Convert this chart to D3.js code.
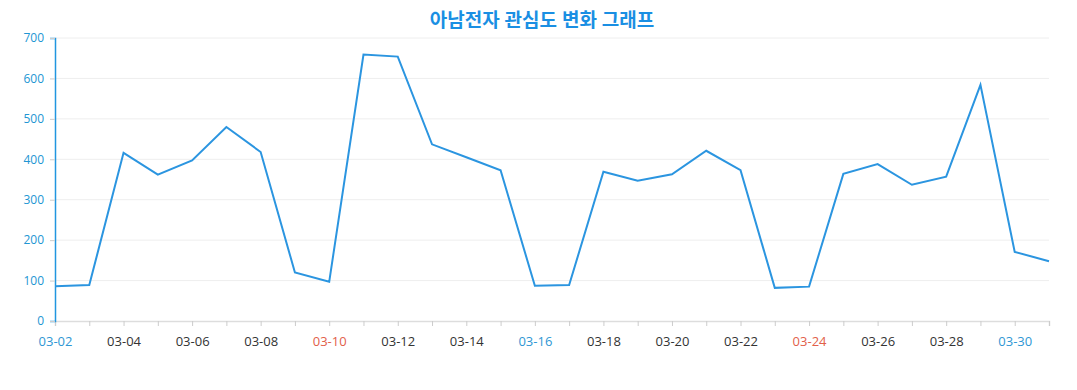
<!DOCTYPE html>
<html>
<head>
<meta charset="utf-8">
<script src="https://cdn.jsdelivr.net/npm/d3@7"></script>
<style>
  body { margin: 0; background: #fff; }
  svg text { font-family: "Open Sans", "Noto Sans", "Noto Sans CJK KR", sans-serif; }
</style>
</head>
<body>
<svg id="chart" width="1077" height="390"></svg>
<script>
// data (March 2024)
const dates = ["03-02","03-03","03-04","03-05","03-06","03-07","03-08","03-09","03-10","03-11",
               "03-12","03-13","03-14","03-15","03-16","03-17","03-18","03-19","03-20","03-21",
               "03-22","03-23","03-24","03-25","03-26","03-27","03-28","03-29","03-30","03-31"];
const interest = [86, 89, 416, 362, 397, 480, 418, 120, 97, 659,
                  654, 437, 405, 373, 87, 89, 369, 347, 363, 421,
                  373, 82, 85, 364, 388, 337, 357, 584, 171, 148];
const yTicks = [0, 100, 200, 300, 400, 500, 600, 700];
const saturdays = ["03-02", "03-09", "03-16", "03-23", "03-30"];
const sundays = ["03-03", "03-10", "03-17", "03-24", "03-31"];

const margin = { left: 55, right: 28, top: 38, bottom: 69 };
const W = 1077, H = 390;
const svg = d3.select("#chart");

const x = d3.scalePoint().domain(dates).range([margin.left, W - margin.right]);
const y = d3.scaleLinear().domain([0, 700]).range([H - margin.bottom, margin.top]);

// title
svg.append("text")
    .attr("x", 542).attr("y", 27)
    .attr("text-anchor", "middle")
    .attr("font-size", 19).attr("font-weight", "bold")
    .attr("fill", "#1a8fe3")
    .text("아남전자 관심도 변화 그래프");

// grid
svg.append("g").selectAll("line").data(yTicks.slice(1)).join("line")
    .attr("x1", margin.left).attr("x2", W - margin.right)
    .attr("y1", d => y(d)).attr("y2", d => y(d))
    .attr("stroke", "#eeeeee").attr("stroke-width", 1);

// y axis
const gy = svg.append("g").attr("transform", "translate(" + margin.left + ",0)")
    .call(d3.axisLeft(y).tickValues(yTicks).tickSize(5).tickPadding(6));
gy.select(".domain").attr("stroke", "#2196e0").attr("stroke-width", 1.5);
gy.selectAll(".tick line").attr("stroke", "#cccccc");
gy.selectAll(".tick text").attr("fill", "#2196d3").attr("font-size", 12);

// x axis
const gx = svg.append("g").attr("transform", "translate(0," + y(0) + ")")
    .call(d3.axisBottom(x).tickSize(5).tickPadding(11)
        .tickFormat((d, i) => i % 2 === 0 ? d : ""));
gx.select(".domain").attr("stroke", "#dddddd").attr("stroke-width", 1.5);
gx.selectAll(".tick line").attr("stroke", "#cccccc");
gx.selectAll(".tick text").attr("font-size", 13)
    .attr("fill", d => saturdays.includes(d) ? "#2f97d4" : sundays.includes(d) ? "#e2604a" : "#333333");

// re-draw y axis line on top of x axis
gy.raise();

// line
svg.append("path").datum(interest)
    .attr("fill", "none")
    .attr("stroke", "#2b95e0").attr("stroke-width", 2)
    .attr("stroke-linejoin", "miter")
    .attr("d", d3.line().x((d, i) => x(dates[i])).y(d => y(d)));
</script>
</body>
</html>
